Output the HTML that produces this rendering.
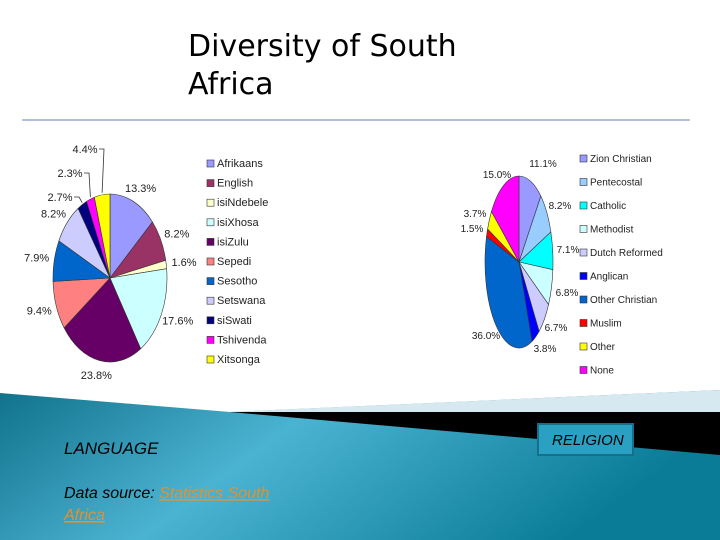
<!DOCTYPE html>
<html><head><meta charset="utf-8"><style>
body{margin:0;width:720px;height:540px;overflow:hidden;background:#fff;font-family:"Liberation Sans",sans-serif;position:relative}
</style></head><body>
<svg width="720" height="540" style="position:absolute;left:0;top:0">
<defs>
<linearGradient id="tg" x1="0" y1="0" x2="1" y2="0.3">
<stop offset="0" stop-color="#0e6f88"/><stop offset="0.45" stop-color="#4bb3d2"/><stop offset="1" stop-color="#0a7c98"/>
</linearGradient>
</defs>
<rect x="0" y="380" width="720" height="160" fill="url(#tg)"/>
<polygon points="0,380 720,380 720,390 230,412 0,393" fill="#fff"/>
<polygon points="230,412 720,390 720,412" fill="#d6e8f0"/>
<polygon points="230,412 720,412 720,455" fill="#000"/>
<line x1="22" y1="120" x2="690" y2="120" stroke="#6a7fb5" stroke-width="1"/>
<text x="188" y="56" font-size="30" font-family="DejaVu Sans, sans-serif" fill="#000">Diversity of South</text>
<text x="188" y="94" font-size="30" font-family="DejaVu Sans, sans-serif" fill="#000">Africa</text>
<g id="lang"></g>
<g id="rel"></g>
<text x="64" y="454" font-size="17" font-style="italic" fill="#000">LANGUAGE</text>
<rect x="538" y="424" width="95" height="31" fill="#2aa0c2" stroke="#17708a" stroke-width="2"/>
<text x="552" y="445" font-size="15" font-style="italic" fill="#000">RELIGION</text>
<text x="64" y="498" font-size="16" font-style="italic" fill="#000">Data source: <tspan fill="#e8902a" text-decoration="underline">Statistics South</tspan></text>
<text x="64" y="520" font-size="16" font-style="italic" fill="#e8902a" text-decoration="underline">Africa</text>
</svg>
<script>
const langCats=["Afrikaans","English","isiNdebele","isiXhosa","isiZulu","Sepedi","Sesotho","Setswana","siSwati","Tshivenda","Xitsonga"];
const langVals=[13.3,8.2,1.6,17.6,23.8,9.4,7.9,8.2,2.7,2.3,4.4];
const langColors=["#9999ff","#993366","#ffffcc","#ccffff","#660066","#ff8080","#0066cc","#ccccff","#000080","#ff00ff","#ffff00"];
const relCats=["Zion Christian","Pentecostal","Catholic","Methodist","Dutch Reformed","Anglican","Other Christian","Muslim","Other","None"];
const relVals=[11.1,8.2,7.1,6.8,6.7,3.8,36.0,1.5,3.7,15.0];
const relColors=["#9999ff","#99ccff","#00ffff","#ccffff","#ccccff","#0000ff","#0066cc","#ff0000","#ffff00","#ff00ff"];
// label placement overrides (style only): index -> [x,y] anchor for leader-lined labels
const langLabelPos={8:[60,201],9:[70,177],10:[85,153]};
const relLabelPos={0:[543,167],1:[560,209],2:[568,253],3:[567,296],4:[556,331],5:[545,352],6:[486,339],7:[472,232],8:[475,217],9:[497,178]};
const NS="http://www.w3.org/2000/svg";
function mk(t,a){const e=document.createElementNS(NS,t);for(const k in a)e.setAttribute(k,a[k]);return e;}
function pie(g,vals,cols,cats,cx,cy,rx,ry,lx,ly,step,fs,lblR,over,leader){
 const tot=vals.reduce((a,b)=>a+b,0);let a0=0;
 vals.forEach((v,i)=>{
  const a1=a0+v/tot*2*Math.PI;
  const p=(a)=>[cx+rx*Math.sin(a),cy-ry*Math.cos(a)];
  const s=p(a0),e=p(a1);const large=(a1-a0)>Math.PI?1:0;
  const path=mk("path",{d:`M${cx},${cy}L${s[0]},${s[1]}A${rx},${ry} 0 ${large} 1 ${e[0]},${e[1]}Z`,fill:cols[i],stroke:"#333","stroke-width":0.6});
  
  
  g.appendChild(path);
  const am=(a0+a1)/2;
  let tx=cx+(rx+lblR)*Math.sin(am),ty=cy-(ry+lblR*0.8)*Math.cos(am)+4,anchor="middle";
  if(over[i]){tx=over[i][0];ty=over[i][1];
   if(leader[i]){const m=p(am);const ln=mk("polyline",{points:`${tx+14},${ty-4} ${tx+19},${ty-4} ${m[0]},${m[1]-2}`,fill:"none",stroke:"#333","stroke-width":0.8});g.appendChild(ln);}
  }
  const t=mk("text",{x:tx,y:ty,"font-size":fs,"text-anchor":anchor,fill:"#222"});
  t.textContent=v.toFixed(1)+"%";
  
  
  g.appendChild(t);
  a0=a1;
 });
 cats.forEach((c,i)=>{
  const r=mk("rect",{x:lx,y:ly+i*step-7,width:7,height:7,fill:cols[i],stroke:"#333","stroke-width":0.6});
  
  
  g.appendChild(r);
  const t=mk("text",{x:lx+10,y:ly+i*step,"font-size":fs,fill:"#222"});
  t.textContent=c;
  
  
  g.appendChild(t);
 });
}
pie(document.getElementById("lang"),langVals,langColors,langCats,110,278,57,84,207,167,19.6,11,18,langLabelPos,{8:1,9:1,10:1});
pie(document.getElementById("rel"),relVals,relColors,relCats,519,262,34,86,580,162,23.5,10,16,relLabelPos,{});
</script>
</body></html>
